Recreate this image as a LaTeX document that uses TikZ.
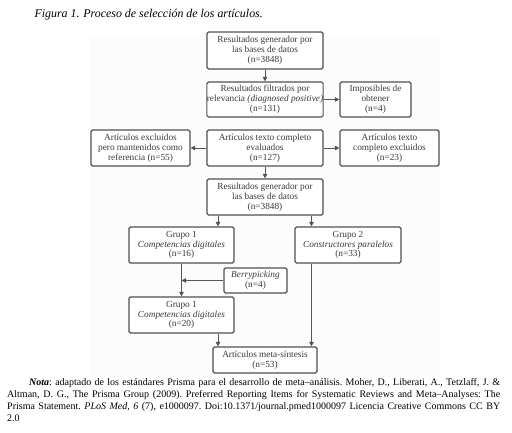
\documentclass[tikz,border=0pt]{standalone}
\usepackage{fontspec}
\setmainfont{Liberation Serif}
\usetikzlibrary{arrows.meta,calc}
\definecolor{boxline}{HTML}{505050}
\definecolor{txt}{HTML}{3A3A3A}
\definecolor{arrc}{HTML}{555555}
\tikzset{
  x=1pt, y=-1pt,
  box/.style={draw=boxline, line width=1.2pt, rounded corners=1.5pt, fill=white,
    inner sep=0pt, align=center, text=txt, font=\fontsize{9.3}{9.8}\selectfont},
  arr/.style={draw=arrc, line width=0.9pt, -{Triangle[length=4.5pt,width=4.5pt]}},
}
\begin{document}
\begin{tikzpicture}
\useasboundingbox (0,0) rectangle (512,432);
\fill[white] (0,0) rectangle (512,432);
\fill[black!1.2] (90,36) rectangle (440,377);

\node[anchor=west, font=\fontsize{11.9}{13}\selectfont\itshape] (cap) at (31,15) {Figura 1. Proceso de selección de los artículos.};

\node[box, minimum width=116pt, minimum height=37pt] (b1) at (265,50.5) {Resultados generador por\\las bases de datos\\(n=3848)};
\node[box, minimum width=116pt, minimum height=35pt] (b2) at (265,99.5) {Resultados filtrados por\\relevancia \textit{(diagnosed positive)}\\(n=131)};
\node[box, minimum width=71pt, minimum height=35pt] (imp) at (375.5,99.5) {Imposibles de\\obtener\\(n=4)};
\node[box, minimum width=99pt, minimum height=36pt] (exc) at (140.5,148) {Artículos excluidos\\pero mantenidos como\\referencia (n=55)};
\node[box, minimum width=116pt, minimum height=36pt] (ev) at (265,148) {Artículos texto completo\\evaluados\\(n=127)};
\node[box, minimum width=99pt, minimum height=36pt] (exc2) at (389.5,148) {Artículos texto\\completo excluidos\\(n=23)};
\node[box, minimum width=116pt, minimum height=36pt] (b4) at (265,197) {Resultados generador por\\las bases de datos\\(n=3848)};
\node[box, minimum width=105pt, minimum height=36pt] (g1) at (181.5,245) {Grupo 1\\\textit{Competencias digitales}\\(n=16)};
\node[box, minimum width=106pt, minimum height=36pt] (g2) at (348,245) {Grupo 2\\\textit{Constructores paralelos}\\(n=33)};
\node[box, minimum width=63pt, minimum height=25pt] (berry) at (255.5,280.5) {\textit{Berrypicking}\\(n=4)};
\node[box, minimum width=105pt, minimum height=36pt] (g1b) at (181.5,315) {Grupo 1\\\textit{Competencias digitales}\\(n=20)};
\node[box, minimum width=104pt, minimum height=26pt] (meta) at (265,360) {Artículos meta-síntesis\\(n=53)};

\coordinate (xa) at (218,0);
\coordinate (xb) at (311.5,0);

\draw[arr] (b1) -- (b2);
\draw[arr] (b2) -- (imp);
\draw[arr] (ev) -- (exc);
\draw[arr] (ev) -- (exc2);
\draw[arr] (ev) -- (b4);
\draw[arr] (b4.south -| xa) -- (g1.north -| xa);
\draw[arr] (b4.south -| xb) -- (g2.north -| xb);
\draw[arr] (g1) -- (g1b);
\draw[arr] (berry.west) -- (berry.west -| g1.south);
\draw[arr] (g1b.south -| xa) -- (meta.north -| xa);
\draw[arr] (g2.south -| xb) -- (meta.north -| xb);

\node[anchor=north west, text width=493pt, align=justify, inner sep=0pt,
  font=\fontsize{10}{12}\selectfont\frenchspacing] (note) at (7,378)
  {\hspace*{22pt}\textit{\textbf{Nota}}: adaptado de los estándares Prisma para el desarrollo de meta–análisis. Moher, D., Liberati, A., Tetzlaff, J. \&\linebreak
  Altman, D. G., The Prisma Group (2009). Preferred Reporting Items for Systematic Reviews and Meta–Analyses: The\linebreak
  Prisma Statement. \textit{PLoS Med, 6} (7), e1000097. Doi:10.1371/journal.pmed1000097 Licencia Creative Commons CC BY\linebreak
  2.0};
\end{tikzpicture}
\end{document}
